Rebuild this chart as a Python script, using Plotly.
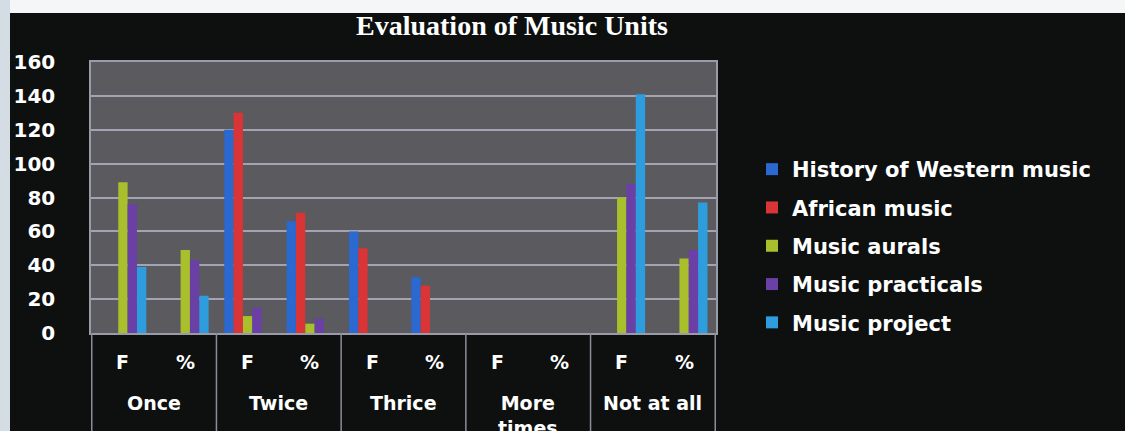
import plotly.graph_objects as go

# ---- data -------------------------------------------------------------
groups = ["Once", "Twice", "Thrice", "More<br>times", "Not at all"]
measures = ["F", "%"]
categories = [f"{g}|{m}" for g in groups for m in measures]

series_names = [
    "History of Western music",
    "African music",
    "Music aurals",
    "Music practicals",
    "Music project",
]
history_western = [0, 0, 120, 66, 60, 33, 0, 0, 0, 0]
african_music = [0, 0, 130, 71, 50, 28, 0, 0, 0, 0]
music_aurals = [89, 49, 10, 5.5, 0, 0, 0, 0, 80, 44]
music_practicals = [76, 43, 15, 8.5, 0, 0, 0, 0, 88, 49]
music_project = [39, 22, 0, 0, 0, 0, 0, 0, 141, 77]

y_ticks = [0, 20, 40, 60, 80, 100, 120, 140, 160]

series_values = [history_western, african_music, music_aurals,
                 music_practicals, music_project]
series_colors = ["#2b68cf", "#d93436", "#a9bf2c", "#6a40a6", "#2e9ddd"]

# ---- geometry (pixels) -----------------------------------------------
W, H = 1125, 431
ML, MR, MT, MB = 91, 409, 62, 98
PW, PH = W - ML - MR, H - MT - MB


def px_x(p):
    return (p - ML) / PW


def px_y(p):
    return (H - MB - p) / PH


FONT = "DejaVu Sans"
fig = go.Figure()

for name, vals, col in zip(series_names, series_values, series_colors):
    fig.add_trace(go.Bar(
        x=categories, y=[v if v else None for v in vals], name=name,
        legendgroup=name,
        marker=dict(color=col, line=dict(width=0)),
    ))

shapes = [
    # light scan border along the top and left
    dict(type="rect", xref="paper", yref="paper",
         x0=px_x(0), x1=px_x(W), y0=px_y(13), y1=px_y(0),
         fillcolor="#f4f6f7", line=dict(width=0), layer="below"),
    dict(type="rect", xref="paper", yref="paper",
         x0=px_x(0), x1=px_x(10), y0=px_y(H), y1=px_y(0),
         fillcolor="#d3dde3", line=dict(width=0), layer="below"),
]
# cell dividers under the category axis
for b in [-0.5, 1.5, 3.5, 5.5, 7.5, 9.5]:
    shapes.append(dict(type="line", xref="x", yref="paper",
                       x0=b, x1=b, y0=0, y1=px_y(H),
                       line=dict(color="#8c8c9a", width=1.5)))

annotations = [
    dict(text="<b>Evaluation of Music Units</b>", xref="paper", yref="paper",
         x=px_x(512), y=px_y(8), xanchor="center", yanchor="top",
         showarrow=False,
         font=dict(family="Liberation Serif", size=28, color="white")),
]
for i, c in enumerate(categories):
    annotations.append(dict(
        text=c.split("|")[1], xref="x", yref="paper", x=i, y=px_y(362),
        xanchor="center", yanchor="middle", showarrow=False,
        font=dict(family=FONT, size=19, color="white", weight="bold")))
for j, g in enumerate(groups):
    annotations.append(dict(
        text=g, xref="x", yref="paper", x=2 * j + 0.5, y=px_y(390),
        xanchor="center", yanchor="top", showarrow=False,
        font=dict(family=FONT, size=19, color="white", weight="bold")))

fig.update_layout(
    width=W, height=H,
    margin=dict(l=ML, r=MR, t=MT, b=MB, pad=0),
    paper_bgcolor="#0d100f",
    plot_bgcolor="#5b5a5e",
    barmode="group", bargap=0.25, bargroupgap=0,
    showlegend=True,
    legend=dict(x=px_x(752), y=px_y(149), xanchor="left", yanchor="top",
                bgcolor="rgba(0,0,0,0)", tracegroupgap=8,
                font=dict(family=FONT, size=21, color="white", weight="bold")),
    shapes=shapes,
    annotations=annotations,
    xaxis=dict(type="category", showticklabels=False, showgrid=False,
               showline=True, linecolor="#9a9aa8", linewidth=1.5, mirror=True,
               fixedrange=True),
    yaxis=dict(range=[0, 160], tickvals=y_ticks, showgrid=True,
               gridcolor="#a3a3b3", gridwidth=1.5, zeroline=False,
               showline=True, linecolor="#9a9aa8", linewidth=1.5, mirror=True,
               ticks="", ticklabelstandoff=30,
               tickfont=dict(family=FONT, size=20, color="white",
                             weight="bold")),
)

fig.write_html("out.html")
